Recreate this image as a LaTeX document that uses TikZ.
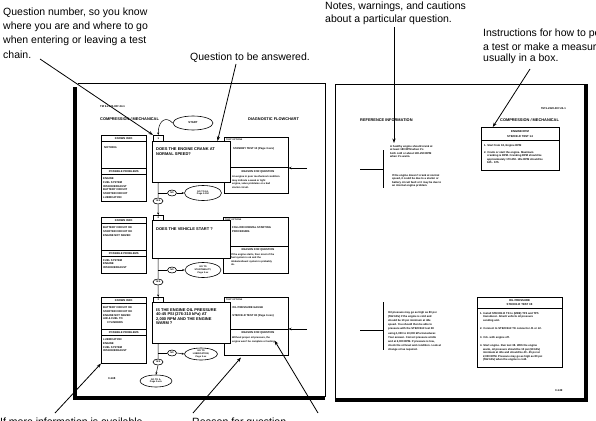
\documentclass[tikz,border=0pt]{standalone}
\usepackage{fontspec}
\setmainfont{Liberation Sans}
\usetikzlibrary{shapes.geometric,arrows.meta,calc}
\newcounter{tn}
\newcommand\tl[4][]{\stepcounter{tn}\node[tx,#1] (t\arabic{tn}) at (#2,#3) {#4};}
\begin{document}
\begin{tikzpicture}[x=1pt,y=-1pt,
  callout/.style={font=\fontsize{10.5}{12}\selectfont, inner sep=0, anchor=base west},
  tx/.style={font=\fontsize{2.7}{3}\selectfont\bfseries, inner sep=0, anchor=base west},
  rs/.style={tx, font=\fontsize{2.5}{3}\selectfont\bfseries},
  hd/.style={tx, font=\fontsize{3.9}{4.5}\selectfont\bfseries},
  qt/.style={tx, font=\fontsize{4}{4.5}\selectfont\bfseries},
  kbox/.style={draw, line width=0.5pt, inner sep=0, anchor=north west},
  qbox/.style={draw, line width=0.9pt, fill=white, inner sep=0, anchor=north west},
  ov/.style={ellipse, draw, line width=0.6pt, inner sep=0, fill=white, font=\fontsize{2.3}{2.8}\selectfont\bfseries, align=center},
  lnk/.style={line width=0.5pt},
  lnka/.style={line width=0.5pt, -{Stealth[length=2.5pt,width=2pt]}},
  pt/.style={line width=0.8pt, -{Stealth[length=4.5pt,width=3.2pt]}}
]
\useasboundingbox (0,0) rectangle (596,420);

% ---------------- callouts -----------------
\node[callout] (a1) at (3,16) {Question number, so you know};
\node[callout] (a2) at (3,30) {where you are and where to go};
\node[callout] (a3) at (3,44) {when entering or leaving a test};
\node[callout] (a4) at (3,58) {chain.};
\node[callout] (b1) at (190,60) {Question to be answered.};
\node[callout] (c1) at (325,10) {Notes, warnings, and cautions};
\node[callout] (c2) at (325,23) {about a particular question.};
\node[callout] (d1) at (483,37) {Instructions for how to perform};
\node[callout] (d2) at (483,50) {a test or make a measurement,};
\node[callout] (d3) at (483,62) {usually in a box.};
\node[callout] (e1) at (0,425.5) {If more information is available};
\node[callout] (e2) at (192,425.5) {Reason for question.};

% ---------------- left page frame -----------------
\draw[line width=0.7pt] (78,83) -- (325,83) -- (325,397);
\fill (72.5,87) rectangle (77,400);
\fill (72.5,396) rectangle (325.4,400);

\tl{100}{107.5}{TM 9-2320-387-24-1}
\node[hd] (lh1) at (100,120) {COMPRESSION / MECHANICAL};
\node[hd] (lh2) at (248,120) {DIAGNOSTIC FLOWCHART};
\node[ov, minimum width=40, minimum height=14, font=\fontsize{2.8}{3}\selectfont\bfseries] (start) at (193,123) {START};

% ======== block 1 ========
\node[kbox, minimum width=45, minimum height=66] (k1) at (101,135) {};
\node[kbox, minimum width=45, minimum height=6] (k1h) at (101,135) {};
\node[tx, anchor=center] (k1ht) at (k1h.center) {KNOWN INFO};
\tl{104}{148}{NOTHING}
\node[kbox, minimum width=45, minimum height=6] (k1p) at (101,168) {};
\node[tx, anchor=center] (k1pt) at (k1p.center) {POSSIBLE PROBLEMS};
\tl{103}{179.5}{ENGINE}
\tl{103}{183.3}{FUEL SYSTEM}
\tl{103}{187.1}{INTAKE/EXHAUST}
\tl{103}{190.9}{BATTERY CIRCUIT}
\tl{103}{194.7}{STARTER CIRCUIT}
\tl{103}{198.5}{LUBRICATION}

\node[kbox, minimum width=64, minimum height=56] (o1) at (224,137) {};
\tl[font=\fontsize{2.2}{3}\selectfont\bfseries]{226}{140.5}{TEST OPTIONS}
\tl{233}{149}{STANDBY TEST 10 (Page 3-xxx)}
\draw[line width=0.5pt] (o1.west |- 0,167) -- (o1.east |- 0,167);
\node[tx, anchor=base] (r1t) at (258,172) {REASON FOR QUESTION};
\tl[rs]{232}{177.5}{An engine in poor mechanical condition}
\tl[rs]{232}{181}{may indicate a weak or tight}
\tl[rs]{232}{184.5}{engine, valve problems or a bad}
\tl[rs]{232}{188}{starter circuit.}

\node[qbox, minimum width=78, minimum height=41] (q1) at (152,141) {};
\node[qt] (q1a) at (156,150) {DOES THE ENGINE CRANK AT};
\node[qt] (q1b) at (156,155) {NORMAL SPEED?};
\node[kbox, minimum width=10, minimum height=6, font=\fontsize{2.6}{3}\selectfont\bfseries] (n1) at (153,135) {1};

\node[ov, minimum width=9, minimum height=6] (no1) at (172,193) {NO};
\node[ov, minimum width=10, minimum height=6] (yes1) at (158,201) {YES};
\node[ov, minimum width=37, minimum height=15] (g1) at (203,193) {GO TO A1,\\Page 3-150};
\draw[lnk] (q1.south -| n1.center) -- (yes1.north);
\draw[lnk] (no1.west) -- (no1.west -| n1.center);
\draw[lnka] (no1.east) -- (g1.west);

% ======== block 2 ========
\node[kbox, minimum width=45, minimum height=56] (k2) at (101,217) {};
\node[kbox, minimum width=45, minimum height=6] (k2h) at (101,217) {};
\node[tx, anchor=center] (k2ht) at (k2h.center) {KNOWN INFO};
\tl{103}{228.5}{BATTERY CIRCUIT OK}
\tl{103}{232.3}{STARTER CIRCUIT OK}
\tl{103}{236.1}{ENGINE NOT SEIZED}
\node[kbox, minimum width=45, minimum height=6] (k2p) at (101,250) {};
\node[tx, anchor=center] (k2pt) at (k2p.center) {POSSIBLE PROBLEMS};
\tl{103}{261}{FUEL SYSTEM}
\tl{103}{264.8}{ENGINE}
\tl{103}{268.6}{INTAKE/EXHAUST}

\node[kbox, minimum width=65, minimum height=56] (o2) at (223,217) {};
\tl[font=\fontsize{2.2}{3}\selectfont\bfseries]{225}{220.5}{TEST OPTIONS}
\tl{232}{228.5}{FOLLOW NORMAL STARTING}
\tl{232}{232.3}{PROCEDURE.}
\draw[line width=0.5pt] (o2.west |- 0,246) -- (o2.east |- 0,246);
\node[tx, anchor=base] (r2t) at (258,250) {REASON FOR QUESTION};
\tl[rs]{231}{255}{If the engine starts, then most of the}
\tl[rs]{231}{258.5}{fuel system is ok and the}
\tl[rs]{231}{262}{intake/exhaust system is probably}
\tl[rs]{231}{265.5}{ok.}

\node[qbox, minimum width=78, minimum height=38] (q2) at (152,220) {};
\node[qt] (q2a) at (156,230) {DOES THE VEHICLE START ?};
\node[kbox, minimum width=10, minimum height=5, font=\fontsize{2.6}{3}\selectfont\bfseries] (n2) at (153,215) {2};
\draw[lnka] (yes1.south) -- (n2.north);

\node[ov, minimum width=9, minimum height=6] (no2) at (172,270) {NO};
\node[ov, minimum width=10, minimum height=6] (yes2) at (158,282) {YES};
\node[ov, minimum width=36, minimum height=15] (g2) at (203,270) {GO TO\\STARTABILITY,\\Page 3-xx};
\draw[lnk] (q2.south -| n2.center) -- (yes2.north);
\draw[lnk] (no2.west) -- (no2.west -| n2.center);
\draw[lnka] (no2.east) -- (g2.west);

% ======== block 3 ========
\node[kbox, minimum width=45, minimum height=66] (k3) at (101,297) {};
\node[kbox, minimum width=45, minimum height=6] (k3h) at (101,297) {};
\node[tx, anchor=center] (k3ht) at (k3h.center) {KNOWN INFO};
\tl{103}{308.5}{BATTERY CIRCUIT OK}
\tl{103}{312.3}{STARTER CIRCUIT OK}
\tl{103}{316.1}{ENGINE NOT SEIZED}
\tl{103}{319.9}{AIR \& FUEL TO}
\tl{107}{323.7}{CYLINDERS}
\node[kbox, minimum width=45, minimum height=6] (k3p) at (101,329) {};
\node[tx, anchor=center] (k3pt) at (k3p.center) {POSSIBLE PROBLEMS};
\tl{103}{340.5}{LUBRICATION}
\tl{103}{344.3}{ENGINE}
\tl{103}{348.1}{FUEL SYSTEM}
\tl{103}{351.9}{INTAKE/EXHAUST}

\node[kbox, minimum width=64, minimum height=58] (o3) at (224,297) {};
\tl[font=\fontsize{2.2}{3}\selectfont\bfseries]{226}{300.5}{TEST OPTIONS}
\tl{229}{308}{1. OIL PRESSURE GAUGE}
\tl{229}{316.5}{2. STE/ICE-R TEST 38 (Page 3-xxx)}
\draw[line width=0.5pt] (o3.west |- 0,329) -- (o3.east |- 0,329);
\node[tx, anchor=base] (r3t) at (258,333) {REASON FOR QUESTION};
\tl[rs]{232}{338.5}{Without proper oil pressure, the}
\tl[rs]{232}{342}{engine won't be complete or lasting.}

\node[qbox, minimum width=78, minimum height=41] (q3) at (152,302) {};
\node[qt] (q3a) at (156,311) {IS THE ENGINE OIL PRESSURE};
\node[qt] (q3b) at (156,315.5) {40-45 PSI (276-310 kPa) AT};
\node[qt] (q3c) at (156,320) {2,000 RPM AND THE ENGINE};
\node[qt] (q3d) at (156,324.5) {WARM ?};
\node[kbox, minimum width=10, minimum height=5, font=\fontsize{2.6}{3}\selectfont\bfseries] (n3) at (153,297) {3};
\draw[lnka] (yes2.south) -- (n3.north);

\node[ov, minimum width=9, minimum height=6] (no3) at (172,353) {NO};
\node[ov, minimum width=10, minimum height=6] (yes3) at (158,362) {YES};
\node[ov, minimum width=33, minimum height=12] (g3) at (201,354) {GO TO\\LUBRICATION,\\Page 3-xx};
\node[ov, minimum width=32, minimum height=12] (ga) at (156,381) {GO TO A,\\Page 3-xxx};
\draw[lnk] (q3.south -| n3.center) -- (yes3.north);
\draw[lnk] (no3.west) -- (no3.west -| n3.center);
\draw[lnka] (no3.east) -- (g3.west);
\draw[lnka] (yes3.south) -- (ga.north);
\tl[font=\fontsize{2.8}{3}\selectfont\bfseries]{108}{379}{3-148}

% START link
\draw[lnka] (start.west) .. controls (165,115) and (158,122) .. (n1.north);

% arrows from the right edge
\coordinate (ra1) at (307,168);
\coordinate (ra2) at (307,329);
\draw[line width=0.7pt, -{Stealth[length=3pt,width=2.5pt]}] (ra1) -- (o1.east |- ra1);
\draw[line width=0.7pt, -{Stealth[length=3pt,width=2.5pt]}] (ra2) -- (o3.east |- ra2);

% ---------------- right page frame -----------------
\draw[line width=0.7pt] (335,401) -- (335,84) -- (585,84);
\fill (583.5,84) rectangle (587.5,402);
\fill (335,398) rectangle (587.5,402);

\tl[anchor=base east]{566}{109}{TM 9-2320-387-24-1}
\node[hd] (rh1) at (360,121) {REFERENCE INFORMATION};
\node[hd] (rh2) at (500,121) {COMPRESSION / MECHANICAL};

% engine rpm box
\node[kbox, minimum width=78, minimum height=43] (eb) at (481,127) {};
\draw[line width=0.5pt] (eb.west |- 0,140) -- (eb.east |- 0,140);
\node[tx, anchor=base, font=\fontsize{2.8}{3}\selectfont\bfseries] (ebh1) at (520,132.5) {ENGINE RPM};
\node[tx, anchor=base, font=\fontsize{2.8}{3}\selectfont\bfseries] (ebh2) at (520,137) {STE/ICE-R TEST 14};
\tl{484}{146.5}{1. Start from 18, Engine RPM}
\tl{484}{153}{2. Crank or start the engine. Maximum}
\tl{487}{156.5}{cranking is RPM. Cranking RPM should be}
\tl{487}{160}{approximately 170-250. Idle RPM should be}
\tl{487}{163.5}{625 - 675.}

% notes for question 1
\tl{390}{147}{A healthy engine should crank at}
\tl{390}{150.5}{at least 180 RPM when it's}
\tl{390}{154}{both cold or about 190-250 RPM}
\tl{390}{157.5}{when it's warm.}
\tl{392}{176}{If the engine doesn't crank at normal}
\tl{392}{179.5}{speed, it could be due to a starter or}
\tl{392}{183}{battery circuit fault or it may be due to}
\tl{392}{186.5}{an internal engine problem.}
\draw[line width=0.8pt] (383,150) -- (383,188);
\draw[line width=0.8pt] (360,169) -- (383,169);

% notes for question 3
\tl{388}{313}{Oil pressure may go as high as 80 psi}
\tl{388}{317.2}{(552 kPa) if the engine is cold and}
\tl{388}{321.4}{should be 10 psi minimum at idle}
\tl{388}{325.6}{speed. You should then be able to}
\tl{388}{329.8}{pressure with the STE/ICE-R test 38}
\tl{388}{334}{using 1,000 to 10,000 kPa transducer.}
\tl{388}{338.2}{Your answer. Correct pressure at idle}
\tl{388}{342.4}{and at 2,000 RPM. If pressure is low,}
\tl{388}{346.6}{check the oil level and condition. Look at}
\tl{388}{350.8}{change oil as required.}
\draw[line width=0.8pt] (383,302) -- (383,350);
\draw[line width=0.8pt] (360,330) -- (383,330);

% oil pressure box
\node[kbox, minimum width=85, minimum height=70] (ob) at (477,297) {};
\draw[line width=0.5pt] (ob.west |- 0,308) -- (ob.east |- 0,308);
\node[tx, anchor=base, font=\fontsize{2.8}{3}\selectfont\bfseries] (obh1) at (519.5,301.5) {OIL PRESSURE};
\node[tx, anchor=base, font=\fontsize{2.8}{3}\selectfont\bfseries] (obh2) at (519.5,305.8) {STE/ICE-R TEST 38};
\tl{480}{314}{1. Install STE/ICE-R TK to (MRE) TP4 and TP5}
\tl{483}{317.5}{transducer. Attach vehicle oil pressure}
\tl{483}{321}{sending unit.}
\tl{480}{329}{2. Connect to STE/ICE-R TK connector J1 or J2.}
\tl{480}{338}{3. Crk. with engine off.}
\tl{480}{346.5}{4. Start engine. Run test 38. With the engine}
\tl{483}{350}{warm, oil pressure should be 10 psi (69 kPa)}
\tl{483}{353.5}{minimum at idle and should be 40 - 45 psi at}
\tl{483}{357}{2,000 RPM. Pressure may go as high as 80 psi}
\tl{483}{360.5}{(552 kPa) when the engine is cold.}
\tl[font=\fontsize{2.8}{3}\selectfont\bfseries]{555}{391}{3-149}

% ---------------- pointer lines -----------------
\coordinate (p1s) at (40,59);
\draw[pt] (p1s) -- (n1.north west);
\coordinate (p2s) at (236,64);
\draw[pt] (p2s) -- ($(q1.north west)!0.83!(q1.north east)$);
\coordinate (p3s) at (394,27);
\coordinate (p3e) at (394,143);
\draw[pt] (p3s) -- (p3e);
\coordinate (p4s) at (530,69);
\draw[pt] (p4s) -- ($(eb.north west)!0.15!(eb.north east)$);
\coordinate (p5s) at (55,413);
\draw[pt] (p5s) -- (k3.south west);
\coordinate (p6s) at (193,413);
\draw[pt] (p6s) -- ($(o3.south west)+(17,2)$);
\coordinate (p7s) at (318,413);
\draw[pt] (p7s) -- ($(o3.south east)+(-14,-15)$);
\end{tikzpicture}
\end{document}
